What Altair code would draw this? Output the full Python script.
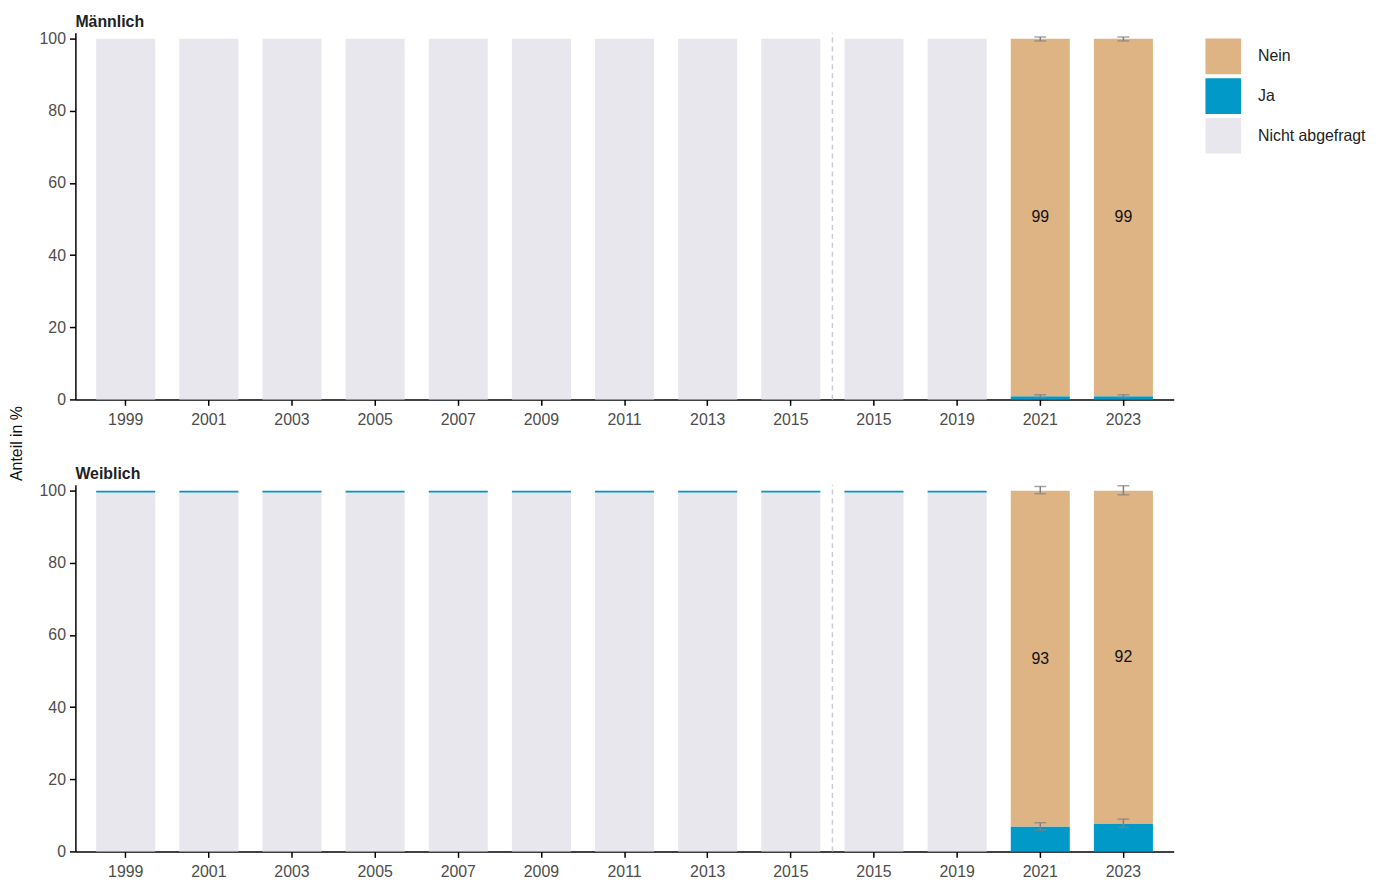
import altair as alt
import pandas as pd

# ---- data -------------------------------------------------------------
slots = [f"s{i}" for i in range(13)]
year_labels = ["1999", "2001", "2003", "2005", "2007", "2009", "2011",
               "2013", "2015", "2015", "2019", "2021", "2023"]
panels = ["Männlich", "Weiblich"]
categories = ["Nein", "Ja", "Nicht abgefragt"]
colors = ["#deb485", "#0099c8", "#e8e7ee"]

asked = [False] * 11 + [True, True]

# share "Ja" in % (surveyed years only)
ja_m = [0.9, 0.9]
ja_w = [6.9, 7.75]
# printed label of "Nein"
nein_label_m = [99, 99]
nein_label_w = [93, 92]
# confidence intervals, Ja (bottom) and top of stack
ci_ja_m = [(0.55, 1.3), (0.55, 1.3)]
ci_top_m = [(99.4, 100.5), (99.4, 100.5)]
ci_ja_w = [(5.9, 7.95), (6.7, 8.95)]
ci_top_w = [(99.2, 101.2), (98.9, 101.4)]
# thin "Ja" line on top of not-asked bars (Weiblich only)
thin_ja_w = 0.45

y_max = 101.7
pad_inner = 0.29
pad_outer = 0.25
sep_after = 8  # separator between slot 8 and 9

rows = []
for p in panels:
    ja = ja_m if p == "Männlich" else ja_w
    lab = nein_label_m if p == "Männlich" else nein_label_w
    cij = ci_ja_m if p == "Männlich" else ci_ja_w
    cit = ci_top_m if p == "Männlich" else ci_top_w
    k = 0
    for i, s in enumerate(slots):
        if not asked[i]:
            rows.append(dict(panel=p, slot=s, kind="bar", cat="Nicht abgefragt", lo=0, hi=100))
            if p == "Weiblich":
                rows.append(dict(panel=p, slot=s, kind="bar", cat="Ja", lo=100 - thin_ja_w, hi=100))
        else:
            rows.append(dict(panel=p, slot=s, kind="bar", cat="Ja", lo=0, hi=ja[k]))
            rows.append(dict(panel=p, slot=s, kind="bar", cat="Nein", lo=ja[k], hi=100))
            rows.append(dict(panel=p, slot=s, kind="err", lo=cij[k][0], hi=cij[k][1]))
            rows.append(dict(panel=p, slot=s, kind="err", lo=cit[k][0], hi=cit[k][1]))
            rows.append(dict(panel=p, slot=s, kind="text", lo=(ja[k] + 100) / 2, label=str(lab[k])))
            k += 1
    rows.append(dict(panel=p, slot=slots[sep_after], kind="sep", lo=0, hi=y_max,
                     pos=pad_outer + sep_after + 1 - pad_inner / 2))

df = pd.DataFrame(rows)

# ---- chart ------------------------------------------------------------
FONT = "Liberation Sans"
W, H = 1108, 370
label_expr = "[" + ",".join(f"'{y}'" for y in year_labels) + "][toNumber(slice(datum.value, 1))]"
n_total = len(slots) - pad_inner + 2 * pad_outer

xscale = alt.Scale(domain=slots, paddingInner=pad_inner, paddingOuter=pad_outer)
yscale = alt.Scale(domain=[0, y_max], nice=False)
X = alt.X("slot:N", scale=xscale, sort=slots,
          axis=alt.Axis(title=None, labelExpr=label_expr, labelAngle=0))

legend = alt.Legend(title=" ", titleFontSize=2, titlePadding=4,
                    symbolType="square", symbolSize=1296,
                    symbolStrokeWidth=0, rowPadding=4, labelOffset=17,
                    labelFontSize=16, labelFont=FONT, labelColor="#222",
                    offset=32, orient="right")


def panel(name, with_title):
    if with_title:
        yaxis = alt.Axis(title="Anteil in %", values=[0, 20, 40, 60, 80, 100],
                         titleX=-51, titleY=414, titleAngle=270,
                         titleBaseline="bottom", titleAlign="center")
    else:
        yaxis = alt.Axis(title=None, values=[0, 20, 40, 60, 80, 100])
    Y = alt.Y("lo:Q", scale=yscale, axis=yaxis)
    base = alt.Chart(df).transform_filter(alt.datum.panel == name)

    bars = base.mark_bar().encode(
        x=X, y=Y, y2="hi:Q",
        color=alt.Color("cat:N", scale=alt.Scale(domain=categories, range=colors), legend=legend),
    ).transform_filter(alt.datum.kind == "bar")

    err_rule = base.mark_rule(color="#808080", strokeWidth=1.5).encode(
        x=X, y=Y, y2="hi:Q"
    ).transform_filter(alt.datum.kind == "err")

    err_lo = base.mark_tick(color="#808080", thickness=1.5, size=12, orient="horizontal").encode(
        x=X, y=Y
    ).transform_filter(alt.datum.kind == "err")

    err_hi = base.mark_tick(color="#808080", thickness=1.5, size=12, orient="horizontal").encode(
        x=X, y=alt.Y("hi:Q", scale=yscale)
    ).transform_filter(alt.datum.kind == "err")

    texts = base.mark_text(font=FONT, fontSize=16, color="#111").encode(
        x=X, y=Y, text="label:N"
    ).transform_filter(alt.datum.kind == "text")

    sep = base.mark_rule(color="#cccccc", strokeDash=[5, 4], strokeWidth=1.5).encode(
        x=alt.X("pos:Q", scale=alt.Scale(domain=[0, n_total], nice=False, zero=False), axis=None),
        y=Y, y2="hi:Q"
    ).transform_filter(alt.datum.kind == "sep")

    main = alt.layer(bars, err_rule, err_lo, err_hi, texts)
    return alt.layer(main, sep).resolve_scale(x="independent").properties(
        width=W, height=H,
        title=alt.TitleParams(name, anchor="start", frame="group", font=FONT, fontSize=16,
                              fontWeight="bold", color="#222", offset=1),
    )


chart = alt.vconcat(
    panel("Männlich", True), panel("Weiblich", False),
    spacing=86, bounds="flush",
).resolve_scale(color="shared").properties(
    padding={"left": 1, "top": 2, "right": 2, "bottom": 2}
).configure_view(stroke=None).configure_axis(
    labelFont=FONT, labelFontSize=16, labelColor="#4d4d4d",
    titleFont=FONT, titleFontSize=16, titleFontWeight="normal", titleColor="#111",
    domainColor="#000", domainWidth=1.5, tickColor="#000", tickWidth=1.5, tickSize=6,
    grid=False, labelPadding=4,
).configure_axisX(labelPadding=6)

chart.save("out.html", embed_options={"renderer": "svg", "actions": False})
